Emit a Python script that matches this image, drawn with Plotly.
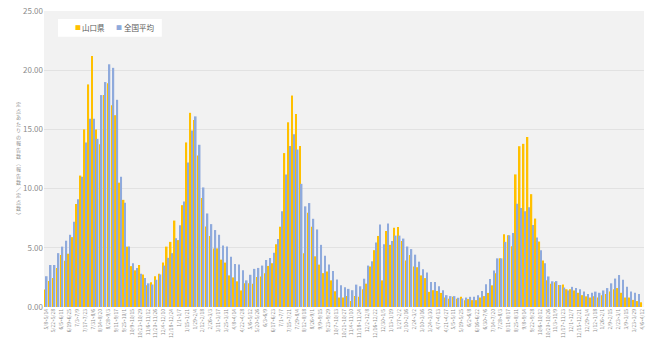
import datetime
import plotly.graph_objects as go

# weekly values (start week 2023-05-08)
yamaguchi = [
    1.47, 2.2, 2.45, 3.3, 4.4, 3.9, 4.5, 5.9, 8.7, 11.1,
    15.0, 18.8, 21.2, 15.0, 13.75, 17.9, 18.9, 17.05, 16.2, 10.5,
    9.05, 5.1, 3.45, 3.1, 3.55, 2.75, 1.83, 2.1, 2.6, 2.8,
    3.75, 5.1, 5.5, 7.3, 5.65, 8.6, 13.9, 16.4, 15.8, 12.8,
    9.2, 6.8, 6.0, 4.95, 4.95, 4.0, 3.75, 2.67, 2.5, 2.17,
    1.4, 2.0, 2.0, 1.97, 2.53, 2.58, 2.86, 3.47, 3.7, 5.3,
    6.78, 13.0, 15.6, 17.86, 16.3, 13.6, 4.55, 7.95, 6.78, 4.28,
    3.58, 2.86, 3.0, 2.25, 1.33, 0.8, 0.8, 0.92, 0.5, 0.92,
    0.86, 1.5, 1.97, 3.42, 4.8, 6.0, 2.25, 6.42, 5.25, 6.69,
    6.75, 5.58, 3.92, 4.39, 3.42, 3.36, 2.67, 2.44, 1.28, 1.42,
    1.36, 1.19, 0.8, 0.69, 0.86, 0.69, 0.86, 0.58, 0.67, 0.58,
    0.58, 0.8, 0.92, 1.19, 1.83, 2.86, 4.11, 6.14, 6.06, 5.14,
    11.2, 13.58, 13.78, 14.36, 9.53, 7.47, 5.53, 3.92, 2.25, 1.97,
    2.1, 1.86, 1.89, 1.5, 1.5, 1.4, 1.2, 1.0, 0.9, 0.8,
    0.9, 0.8, 1.0, 1.1, 1.3, 1.5, 1.6, 1.2, 0.8, 0.8,
    0.6, 0.5, 0.4,
]
national = [
    2.6, 3.55, 3.55, 4.55, 5.1, 5.6, 6.1, 7.2, 9.1, 11.0,
    13.9, 15.9, 15.9, 14.2, 17.9, 19.0, 20.5, 20.2, 17.5, 11.0,
    8.8, 5.1, 3.7, 3.3, 2.8, 2.45, 2.0, 1.9, 2.3, 2.75,
    3.5, 4.15, 4.55, 5.8, 6.9, 8.9, 12.2, 14.9, 16.1, 13.7,
    10.1, 7.9, 7.0, 6.5, 6.1, 5.2, 5.1, 4.25, 3.63, 3.58,
    3.1, 2.25, 2.72, 3.22, 3.3, 3.5, 3.97, 4.14, 4.58, 5.75,
    8.08, 11.2, 13.6, 14.6, 13.3, 10.4, 8.5, 8.78, 7.45, 6.55,
    5.25, 4.33, 3.58, 3.03, 2.33, 1.83, 1.67, 1.53, 1.42, 1.89,
    1.75, 2.39, 3.5, 3.86, 5.44, 6.97, 5.3, 7.06, 5.58, 6.03,
    6.03, 5.78, 5.11, 4.89, 4.42, 3.83, 3.19, 2.92, 2.11, 2.11,
    1.75, 1.42, 1.0, 0.92, 0.92, 0.78, 0.72, 0.8, 0.86, 0.86,
    1.0, 1.36, 1.92, 2.36, 3.08, 4.11, 4.11, 5.5, 6.06, 6.25,
    8.72, 8.36, 8.08, 8.42, 6.92, 5.86, 4.8, 3.7, 2.58, 2.17,
    2.19, 1.86, 1.64, 1.4, 1.7, 1.6, 1.5, 1.3, 1.1, 1.2,
    1.3, 1.2, 1.4, 1.6, 2.0, 2.4, 2.7, 2.3, 1.7, 1.3,
    1.2, 1.1, None,
]
series_names = ["山口県", "全国平均"]
series_colors = ["#FFC000", "#8FAADC"]
y_tick_values = [0, 5, 10, 15, 20, 25]
y_title = "定点あたりの報告数︵報告数／定点数︶"

start = datetime.date(2023, 5, 8)
week_labels = []
for i in range(len(yamaguchi)):
    a = start + datetime.timedelta(weeks=i)
    b = a + datetime.timedelta(days=6)
    week_labels.append(f"{a.month}/{a.day}~{b.month}/{b.day}")

xs = list(range(len(yamaguchi)))
tick_idx = xs[::2]

W, H = 650, 357
ML, MR, MT, MB = 44, 5, 7, 50
PW, PH = W - ML - MR, H - MT - MB


def px_x(p):
    return (p - ML) / PW


def px_y(p):
    return (H - MB - p) / PH


fig = go.Figure()
fig.add_trace(go.Bar(x=xs, y=yamaguchi, name=series_names[0], marker_color=series_colors[0],
                     marker_line_width=0, showlegend=False))
fig.add_trace(go.Bar(x=xs, y=national, name=series_names[1], marker_color=series_colors[1],
                     marker_line_width=0, showlegend=False))

annotations = [dict(
    text="<br>".join(list(y_title)), xref="paper", yref="paper",
    x=px_x(18), y=px_y(157), xanchor="center", yanchor="middle", showarrow=False,
    font=dict(size=5, color="#8c8c8c"),
)]
# legend (as text)
legend_items = [(73, 80, series_names[0], series_colors[0]),
                (114, 122, series_names[1], series_colors[1])]
for sx, tx, name, col in legend_items:
    annotations.append(dict(text="■", xref="paper", yref="paper", x=px_x(sx), y=px_y(24),
                            xanchor="left", yanchor="middle", showarrow=False,
                            font=dict(size=6, color=col)))
    annotations.append(dict(text=name, xref="paper", yref="paper", x=px_x(tx), y=px_y(24),
                            xanchor="left", yanchor="middle", showarrow=False,
                            font=dict(size=7.5, color="#595959")))

fig.update_layout(
    width=W, height=H,
    margin=dict(l=ML, r=MR, t=MT, b=MB),
    paper_bgcolor="white",
    plot_bgcolor="#F2F2F2",
    barmode="group",
    bargap=0.2,
    bargroupgap=0.0,
    font=dict(family="Noto Sans CJK JP, Noto Sans, sans-serif", color="#8c8c8c"),
    showlegend=False,
    xaxis=dict(
        range=[-0.5, len(xs) - 0.5],
        tickmode="array", tickvals=tick_idx,
        ticktext=[week_labels[i] for i in tick_idx],
        tickangle=-90, tickfont=dict(size=5, color="#8c8c8c"),
        showgrid=False, zeroline=False, showline=False, ticks="",
    ),
    yaxis=dict(
        range=[0, 25], tickvals=y_tick_values, tickformat=".2f",
        tickfont=dict(size=8, color="#8c8c8c"),
        showgrid=True, gridcolor="#E2E2E2", gridwidth=1,
        zeroline=False, showline=False, ticks="",
    ),
    shapes=[dict(type="rect", xref="paper", yref="paper",
                 x0=px_x(58), x1=px_x(162), y0=px_y(33), y1=px_y(15),
                 fillcolor="white", line=dict(width=0), layer="above")],
    annotations=annotations,
)

fig.write_html("out.html", config={"displayModeBar": False},
               post_script="document.body.style.margin='0px';")
